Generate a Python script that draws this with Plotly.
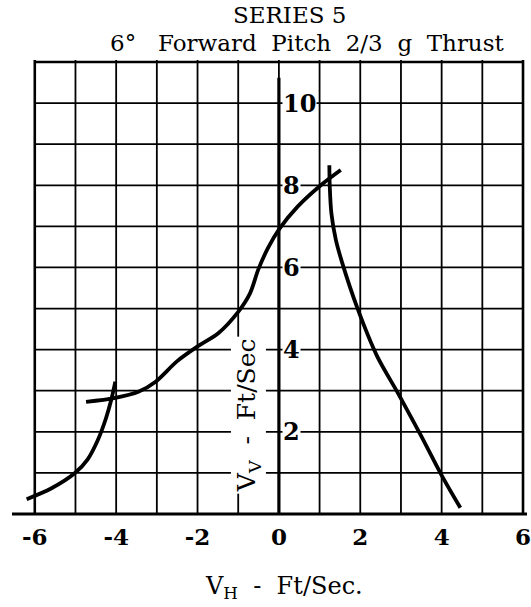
import plotly.graph_objects as go

# ---- data ----
curve_a_x = [-4.74, -4.05, -3.44, -3.03, -2.50, -1.98, -1.49, -1.00, -0.71, -0.51, -0.27, 0.02, 0.46, 1.03, 1.52]
curve_a_y = [2.73, 2.82, 2.98, 3.22, 3.72, 4.09, 4.40, 4.92, 5.37, 5.94, 6.47, 6.95, 7.48, 8.00, 8.37]

curve_b_x = [1.24, 1.25, 1.29, 1.40, 1.56, 1.93, 2.41, 2.95, 3.48, 4.00, 4.46]
curve_b_y = [8.49, 7.97, 7.32, 6.67, 6.10, 5.01, 3.85, 2.90, 1.93, 0.94, 0.15]

curve_c_x = [-6.20, -5.60, -5.02, -4.70, -4.45, -4.25, -4.12, -4.02]
curve_c_y = [0.36, 0.62, 0.99, 1.33, 1.80, 2.33, 2.78, 3.22]

x_ticks = [-6, -4, -2, 0, 2, 4, 6]
x_tick_labels = ["-6", "-4", "-2", "0", "2", "4", "6"]
y_ticks = [2, 4, 6, 8, 10]
y_tick_labels = ["2", "4", "6", "8", "10"]
grid_x = list(range(-6, 7))
grid_y = list(range(0, 12))

title_1 = "SERIES 5"
title_2 = "6°   Forward  Pitch  2/3  g  Thrust"
x_title = "V<sub>H</sub>  -  Ft/Sec."
y_title = "V<sub>V</sub>  -  Ft/Sec"

FONT = "DejaVu Serif"

fig = go.Figure()
for xs, ys in [(curve_a_x, curve_a_y), (curve_b_x, curve_b_y), (curve_c_x, curve_c_y)]:
    fig.add_trace(go.Scatter(x=xs, y=ys, mode="lines",
                             line=dict(color="black", width=3.8, shape="spline", smoothing=0.8),
                             hoverinfo="skip", showlegend=False))

shapes = []
xmin, xmax = grid_x[0], grid_x[-1]
ymin, ymax = grid_y[0], grid_y[-1]
for gx in grid_x:
    w = 2.6 if gx in (xmin, xmax) else 1.8
    shapes.append(dict(type="line", xref="x", yref="y", x0=gx, x1=gx, y0=ymin, y1=ymax + 0.05,
                       line=dict(color="black", width=w), layer="below"))
for gy in grid_y[1:]:
    w = 2.6 if gy == ymax else 1.8
    shapes.append(dict(type="line", xref="x", yref="y", x0=xmin, x1=xmax, y0=gy, y1=gy,
                       line=dict(color="black", width=w), layer="below"))
# main axes
shapes.append(dict(type="line", xref="paper", yref="y", x0=0, x1=1, y0=0, y1=0,
                   line=dict(color="black", width=3.2)))
shapes.append(dict(type="line", xref="x", yref="y", x0=0, x1=0, y0=0, y1=10.62,
                   line=dict(color="black", width=3.2)))

annotations = []
for v, t in zip(y_ticks, y_tick_labels):
    annotations.append(dict(x=0, y=v, xref="x", yref="y", text=t, showarrow=False,
                            xanchor="left", yanchor="middle", xshift=3, bgcolor="white", borderpad=0,
                            font=dict(family=FONT, size=24, color="black", weight="bold")))
annotations.append(dict(x=-0.74, y=2.4, xref="x", yref="y", text=y_title, showarrow=False,
                        textangle=-90, xanchor="center", yanchor="middle", bgcolor="white",
                        font=dict(family=FONT, size=25, color="black")))
annotations.append(dict(x=0.13, y=-0.049, xref="x", yref="y", text=x_title, showarrow=False,
                        xanchor="center", yanchor="top", yshift=-54,
                        font=dict(family=FONT, size=24, color="black")))
annotations.append(dict(x=0.27, y=1, xref="x", yref="paper", text=title_1, showarrow=False,
                        xanchor="center", yanchor="bottom", yshift=31, borderpad=0,
                        font=dict(family=FONT, size=23, color="black")))
annotations.append(dict(x=0.68, y=1, xref="x", yref="paper", text=title_2, showarrow=False,
                        xanchor="center", yanchor="bottom", yshift=3, borderpad=0,
                        font=dict(family=FONT, size=23, color="black")))

fig.update_layout(
    width=531, height=607,
    margin=dict(l=12, r=0, t=60, b=91),
    paper_bgcolor="white", plot_bgcolor="white",
    shapes=shapes, annotations=annotations,
    xaxis=dict(range=[-6.56, 6.098], showgrid=False, zeroline=False, showline=False,
               tickvals=x_ticks, ticktext=x_tick_labels, ticks="", ticklabelstandoff=5,
               ticklabeloverflow="allow",
               tickfont=dict(family=FONT, size=23, color="black", weight="bold")),
    yaxis=dict(range=[-0.049, 11.049], showgrid=False, zeroline=False, showline=False,
               showticklabels=False, ticks=""),
)

fig.write_html("out.html")
